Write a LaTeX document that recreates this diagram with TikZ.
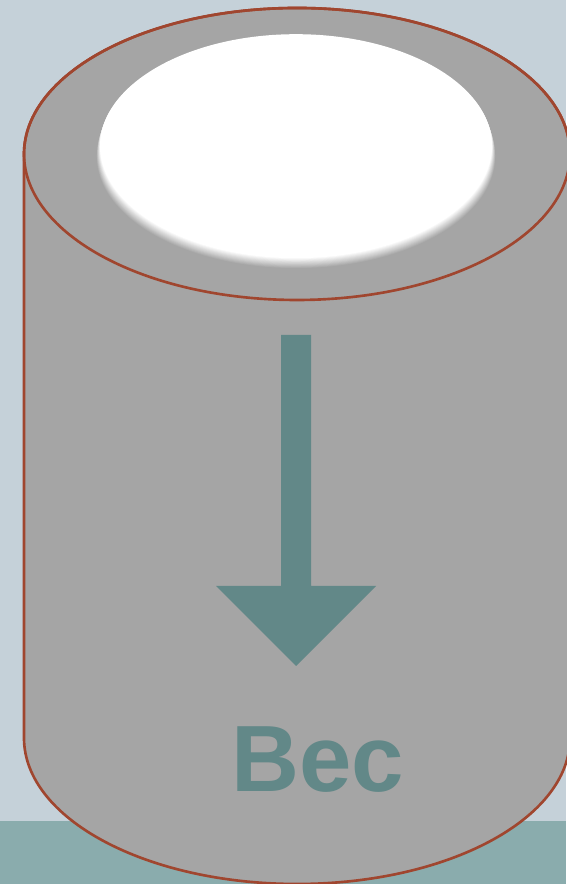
\documentclass[tikz,border=0pt]{standalone}
\usepackage{fontspec}
\setmainfont{Liberation Sans}

\begin{document}
\begin{tikzpicture}[scale=1]
    % Define page size and cylinder radii
    \def\pageW{5.66}
    \def\pageH{8.84}
    \def\radX{2.73}
    \def\radY{1.46}

    \definecolor{skyColour}{HTML}{C5D1D9}
    \definecolor{groundColour}{HTML}{8AACAD}
    \definecolor{bodyColour}{HTML}{A5A5A5}
    \definecolor{borderColour}{HTML}{A0462F}
    \definecolor{arrowColour}{HTML}{628888}

    \useasboundingbox (0,0) rectangle (\pageW,\pageH);

    % Draw background
    \fill[skyColour] (0,0) rectangle (\pageW,\pageH);
    \fill[groundColour] (0,0) rectangle (\pageW,0.63);

    % Define the centers of the two ends
    \coordinate (topCenter) at (2.97,7.30);
    \coordinate (bottomLeft) at (0.24,1.46);

    % Draw the cylinder body
    \draw[fill=bodyColour, draw=borderColour, line width=0.75pt]
        (bottomLeft) arc[start angle=180, end angle=360, x radius=\radX, y radius=\radY]
        -- ++(0,5.84) arc[start angle=0, end angle=180, x radius=\radX, y radius=\radY] -- cycle;

    % Draw the front rim of the top
    \draw[draw=borderColour, line width=0.75pt] (topCenter) ellipse ({\radX} and {\radY});

    % Draw the opening, blurred at its lower edge
    \foreach \i in {0,...,12}
        \fill[white!\the\numexpr\i*100/12\relax!bodyColour]
            (2.96,{7.27+\i*0.009}) ellipse ({1.96+(12-\i)*0.003} and 1.12);

    % Draw the arrow
    \fill[arrowColour] (2.81,5.49) -- (3.11,5.49) -- (3.11,2.98) -- (3.76,2.98)
        -- (2.96,2.18) -- (2.16,2.98) -- (2.81,2.98) -- cycle;

    % Label the arrow
    \node[anchor=base, inner sep=0pt, text=arrowColour, font=\fontsize{26.8}{32}\selectfont\bfseries] (label) at (3.175,0.92) {Bec};

\end{tikzpicture}
\end{document}
